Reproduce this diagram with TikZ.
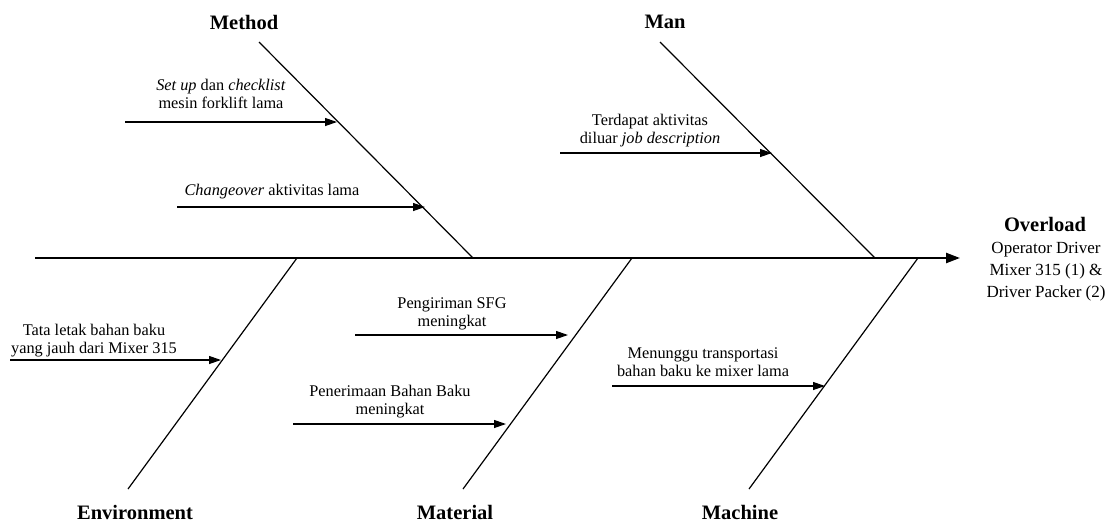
\documentclass[tikz,border=0pt]{standalone}
\usepackage{fontspec}
\setmainfont{Liberation Serif}
\usetikzlibrary{arrows.meta}
\tikzset{
  bone/.style={line width=1.2pt},
  spine/.style={line width=2.3pt,-{Triangle[length=14pt,width=10pt]}},
  causearrow/.style={line width=1.2pt,-{Triangle[length=12pt,width=8pt]}},
  causetext/.style={align=center,inner sep=0pt,font=\fontsize{16.3}{18}\selectfont},
  cattext/.style={inner sep=0pt,font=\fontsize{20.5}{24}\selectfont\bfseries},
  effecttext/.style={align=center,inner sep=0pt,font=\fontsize{17}{22}\selectfont},
}
\newcommand{\sst}{\strut}
\begin{document}
\begin{tikzpicture}[x=1pt,y=-1pt]
\useasboundingbox (0,0) rectangle (1110,525);
% spine
\coordinate (s0) at (35,258);
\coordinate (s1) at (960,258);
\draw[spine] (s0) -- (s1);
% bones
\coordinate (mt) at (259,42);   \coordinate (mb) at (473,258);
\coordinate (nt) at (660,42);   \coordinate (nb) at (875,258);
\coordinate (eb) at (128,489);  \coordinate (et) at (297,258);
\coordinate (tb) at (463,489);  \coordinate (tt) at (632,258);
\coordinate (cb) at (749,489);  \coordinate (ct) at (918,258);
\draw[bone] (mt) -- (mb);
\draw[bone] (nt) -- (nb);
\draw[bone] (eb) -- (et);
\draw[bone] (tb) -- (tt);
\draw[bone] (cb) -- (ct);
% category labels
\node[cattext] (lmethod) at (244,22) {Method};
\node[cattext] (lman) at (665,22) {Man};
\node[cattext] (lenv) at (135,512) {Environment};
\node[cattext] (lmat) at (455,512) {Material};
\node[cattext] (lmach) at (740,512) {Machine};
% effect
\node[cattext] (over) at (1045,224) {Overload};
\node[effecttext,anchor=north] (eff) at (1046,242) {Operator Driver\\Mixer 315 (1) \&\\Driver Packer (2)};
% causes
\coordinate (a1s) at (125,122); \coordinate (a1e) at (337,122);
\draw[causearrow] (a1s) -- (a1e);
\node[causetext] (c1) at (221,96) {\sst\textit{Set up} dan \textit{checklist}\\mesin forklift lama\sst};
\coordinate (a2s) at (177,207); \coordinate (a2e) at (425,207);
\draw[causearrow] (a2s) -- (a2e);
\node[causetext] (c2) at (272,192) {\sst\textit{Changeover} aktivitas lama};
\coordinate (a3s) at (560,153); \coordinate (a3e) at (772,153);
\draw[causearrow] (a3s) -- (a3e);
\node[causetext] (c3) at (650,131) {\sst Terdapat aktivitas\\diluar \textit{job description}\sst};
\coordinate (a4s) at (10,360); \coordinate (a4e) at (221,360);
\draw[causearrow] (a4s) -- (a4e);
\node[causetext] (c4) at (94,341) {\sst Tata letak bahan baku\\yang jauh dari Mixer 315\sst};
\coordinate (a5s) at (355,335); \coordinate (a5e) at (568,335);
\draw[causearrow] (a5s) -- (a5e);
\node[causetext] (c5) at (452,314) {\sst Pengiriman SFG\\meningkat\sst};
\coordinate (a6s) at (293,424); \coordinate (a6e) at (506,424);
\draw[causearrow] (a6s) -- (a6e);
\node[causetext] (c6) at (390,402) {\sst Penerimaan Bahan Baku\\meningkat\sst};
\coordinate (a7s) at (612,386); \coordinate (a7e) at (825,386);
\draw[causearrow] (a7s) -- (a7e);
\node[causetext] (c7) at (703,364) {\sst Menunggu transportasi\\bahan baku ke mixer lama\sst};
\end{tikzpicture}
\end{document}
